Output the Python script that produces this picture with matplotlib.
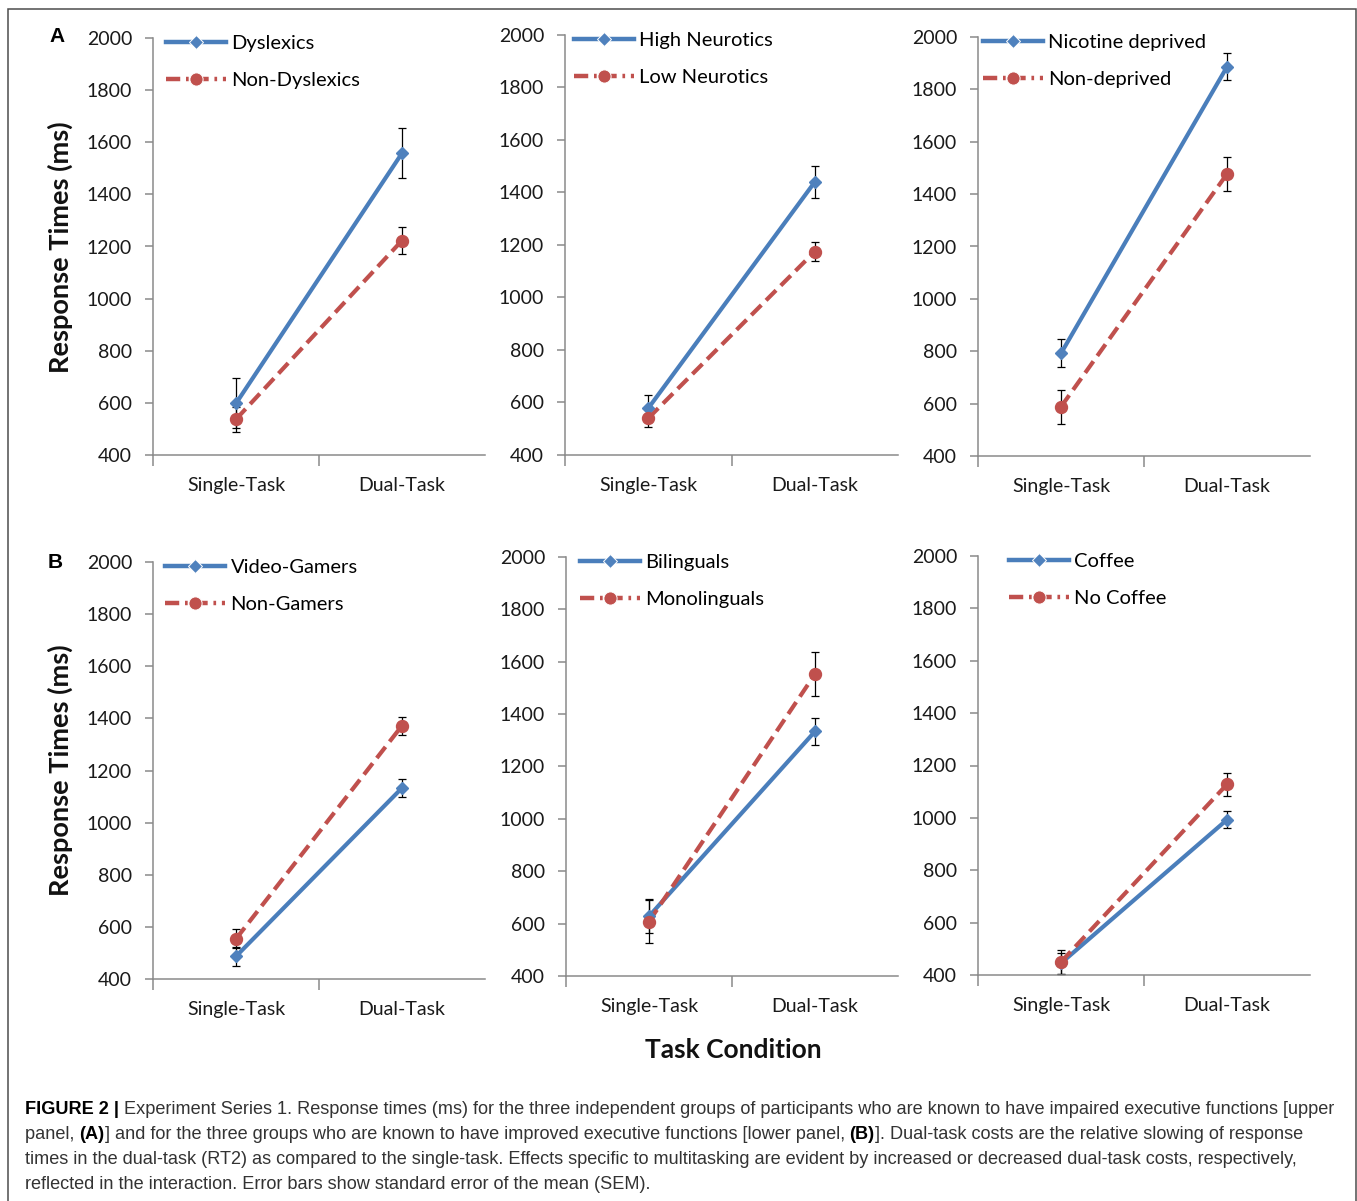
import matplotlib
matplotlib.use("Agg")
import matplotlib.pyplot as plt
from matplotlib.lines import Line2D
from matplotlib import font_manager

W, H = 1357, 1201

conditions = ["Single-Task", "Dual-Task"]

blue_labels = ["Dyslexics", "High Neurotics", "Nicotine deprived",
               "Video-Gamers", "Bilinguals", "Coffee"]
red_labels = ["Non-Dyslexics", "Low Neurotics", "Non-deprived",
              "Non-Gamers", "Monolinguals", "No Coffee"]

blue_means = [[598, 1558], [578, 1440], [792, 1886],
              [487, 1133], [628, 1334], [445, 993]]
blue_sem = [[96, 96], [50, 60], [53, 52],
            [36, 36], [65, 50], [40, 32]]
red_means = [[537, 1223], [540, 1175], [588, 1477],
             [554, 1372], [608, 1553], [450, 1128]]
red_sem = [[47, 50], [35, 35], [65, 64],
           [36, 35], [82, 85], [45, 45]]

caption = [
    [("FIGURE 2 |", True),
     (" Experiment Series 1. Response times (ms) for the three independent groups of participants "
      "who are known to have impaired executive functions [upper", False)],
    [("panel, ", False), ("(A)", True),
     ("] and for the three groups who are known to have improved executive functions [lower panel, ", False),
     ("(B)", True), ("]. Dual-task costs are the relative slowing of response", False)],
    [("times in the dual-task (RT2) as compared to the single-task. Effects specific to multitasking "
      "are evident by increased or decreased dual-task costs, respectively,", False)],
    [("reflected in the interaction. Error bars show standard error of the mean (SEM).", False)],
]

BLUE = "#4a7ebb"
RED = "#c0504d"
AX_GRAY = "#8a8a8a"
FONT = "Lato"

try:
    font_manager.findfont(font_manager.FontProperties(family="Liberation Sans Narrow"),
                          fallback_to_default=False)
    CAP_FONT, CAP_SIZE = "Liberation Sans Narrow", 12.2
except Exception:
    CAP_FONT, CAP_SIZE = "Liberation Sans", 13.05

plt.rcParams["font.family"] = [FONT, "DejaVu Sans"]

fig = plt.figure(figsize=(W / 100, H / 100), dpi=100)

# axes boxes in pixels: left, right, top(2000), bottom(400)
boxes = [(153, 485, 38, 455), (565, 898, 35, 455), (978, 1310, 37, 456),
         (153, 485, 562, 979), (566, 898, 557, 976), (978, 1310, 556, 975)]
leg_dx = [13, 9, 5, 12, 14, 31]

for i, (l, r, t, b) in enumerate(boxes):
    ax = fig.add_axes([l / W, 1 - b / H, (r - l) / W, (b - t) / H])
    x = [0.5, 1.5]
    ax.errorbar(x, blue_means[i], yerr=blue_sem[i], fmt="none", ecolor="black",
                elinewidth=0.9, capsize=3.2, capthick=0.9, zorder=2)
    ax.errorbar(x, red_means[i], yerr=red_sem[i], fmt="none", ecolor="black",
                elinewidth=0.9, capsize=3.2, capthick=0.9, zorder=2)
    ax.plot(x, blue_means[i], color=BLUE, lw=3, zorder=3)
    ax.plot(x, red_means[i], color=RED, lw=3, dashes=(3.4, 1.6), zorder=3)
    ax.plot(x, blue_means[i], ls="none", marker="D", ms=6.6, color="#4f81bd",
            mec="#4f81bd", zorder=4)
    ax.plot(x, red_means[i], ls="none", marker="o", ms=8.6, color=RED, mec=RED, zorder=4)

    ax.set_xlim(0, 2)
    ax.set_ylim(400, 2000)
    ax.set_yticks(range(400, 2001, 200))
    ax.set_xticks([0.5, 1.5])
    ax.set_xticklabels(conditions)
    ax.set_xticks([0, 1], minor=True)
    ax.tick_params(axis="x", which="major", length=0, pad=16, labelsize=14, labelcolor="#1a1a1a")
    ax.tick_params(axis="x", which="minor", length=8, width=1.1, color=AX_GRAY, direction="out")
    ax.tick_params(axis="y", length=6, width=1.1, color=AX_GRAY, pad=9, labelsize=14,
                   labelcolor="#1a1a1a", direction="out")
    for s in ["top", "right"]:
        ax.spines[s].set_visible(False)
    for s in ["left", "bottom"]:
        ax.spines[s].set_color(AX_GRAY)
        ax.spines[s].set_linewidth(1.1)
    ax.patch.set_alpha(0)

    h_blue = Line2D([], [], color=BLUE, lw=3.2, marker="D", ms=7, mfc="#4f81bd", mec="white",
                    mew=0.7)
    h_red = Line2D([], [], color=RED, lw=3.2, dashes=(3.2, 1.3, 0.6, 1.3), marker="o", ms=9.5,
                   mfc=RED, mec="white", mew=0.7)
    ax.legend([h_blue, h_red], [blue_labels[i], red_labels[i]], loc="upper left",
              bbox_to_anchor=(leg_dx[i] / (r - l), 1 + 3 / (b - t)), frameon=False,
              fontsize=14.5, handlelength=3.0, handletextpad=0.25, labelspacing=1.0,
              borderpad=0, borderaxespad=0)

# panel letters
fig.text(57 / W, 1 - 37 / H, "A", fontsize=15, fontweight="bold",
         family="Liberation Sans", ha="center", va="center")
fig.text(55 / W, 1 - 562 / H, "B", fontsize=15, fontweight="bold",
         family="Liberation Sans", ha="center", va="center")

# axis titles
for yc in [247, 770]:
    fig.text(60 / W, 1 - yc / H, "Response Times (ms)", rotation=90, fontsize=19.5,
             fontweight="bold", ha="center", va="center", color="#111111")
fig.text(733 / W, 1 - 1050 / H, "Task Condition", fontsize=19, fontweight="bold",
         ha="center", va="center", color="#111111")

# outer frame
fig.add_artist(plt.Rectangle((8 / W, -0.01), (1356 - 8) / W, 1 - 9 / H + 0.01,
                             transform=fig.transFigure, fill=False, ec="#4d4d4d", lw=1.1))

# caption, drawn piece by piece to mix bold and regular text
renderer = fig.canvas.get_renderer()


def text_width(s, bold):
    def w(txt):
        t = fig.text(0, 0, txt, family=CAP_FONT, fontsize=CAP_SIZE,
                     fontweight="bold" if bold else "normal")
        ext = t.get_window_extent(renderer).width
        t.remove()
        return ext
    return w(s + "|") - w("|")


for k, line in enumerate(caption):
    xpx = 25
    ybase = 1114 + k * 25
    for s, bold in line:
        fig.text(xpx / W, 1 - ybase / H, s, family=CAP_FONT, fontsize=CAP_SIZE,
                 fontweight="bold" if bold else "normal", va="baseline", ha="left",
                 color="#000000" if bold else "#333333")
        xpx += text_width(s, bold)

fig.savefig("out.png", dpi=100)
